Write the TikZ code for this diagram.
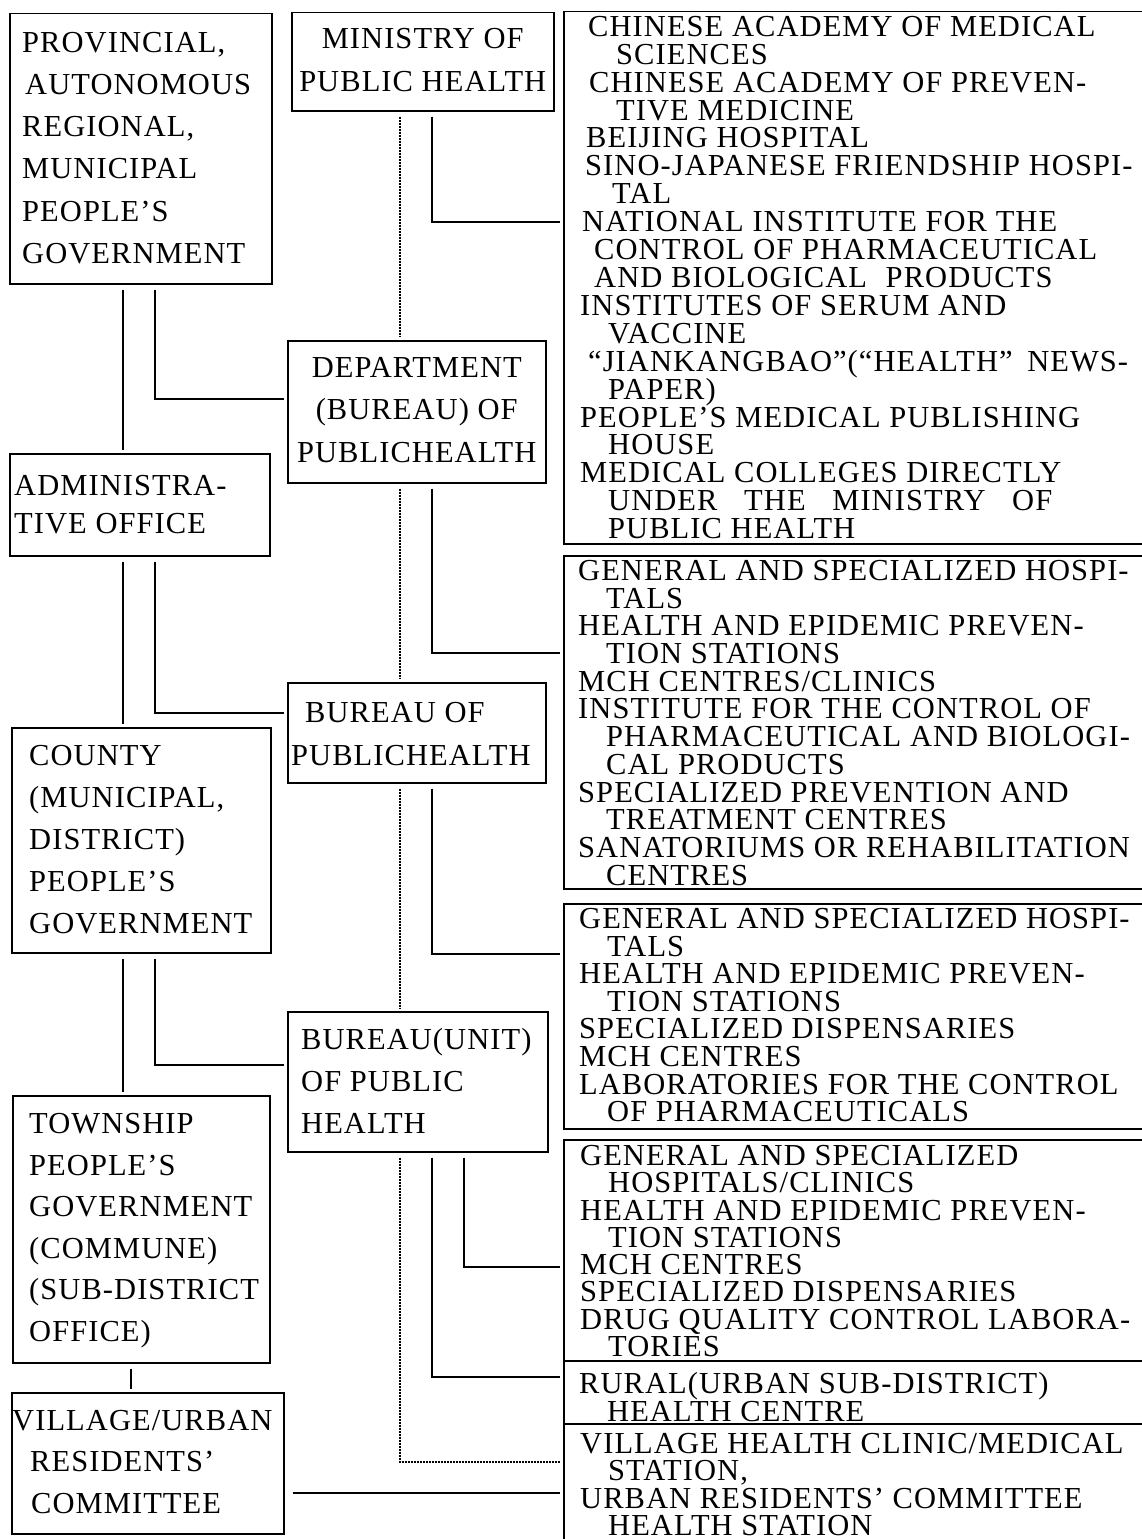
\documentclass[tikz,border=0pt]{standalone}
\usepackage{fontspec}
\setmainfont{Liberation Serif}[LetterSpace=3.5]
\usetikzlibrary{calc}
\newcommand\myind{\hspace*{28bp}}
\begin{document}
\begin{tikzpicture}[x=1bp,y=-1bp,
  box/.style={draw, line width=1.5bp, anchor=north west, inner sep=0pt},
  lt/.style={anchor=north west, inner sep=0pt, align=left, font=\fontsize{30.5bp}{#1}\selectfont},
  rt/.style={anchor=north west, inner sep=0pt, align=left, font=\fontsize{30.5bp}{#1}\selectfont},
  link/.style={line width=1.5bp, shorten <=5bp, shorten >=3bp},
  dlink/.style={link, dash pattern=on 2bp off 1bp},
]
\useasboundingbox (0,0) rectangle (1141,1539);

% column coordinates for connectors
\coordinate (xa) at (123,0);
\coordinate (xb) at (155,0);
\coordinate (xc) at (131,0);
\coordinate (xd) at (400,0);
\coordinate (xs) at (432,0);
\coordinate (xt) at (464,0);

% left column
\node[box, minimum width=262bp, minimum height=270bp] (prov) at (9,13) {};
\node[lt=42.2bp] (provT) at ($(prov.north west)+(13,19)$)
  {PROVINCIAL,\\\hspace*{3bp}AUTONOMOUS\\REGIONAL,\\MUNICIPAL\\PEOPLE’S\\GOVERNMENT};

\node[box, minimum width=260bp, minimum height=102bp] (admin) at (9,453) {};
\node[lt=38bp] (adminT) at ($(admin.north west)+(5,22)$) {ADMINISTRA-\\TIVE OFFICE};

\node[box, minimum width=259bp, minimum height=225bp] (county) at (11,727) {};
\node[lt=42bp] (countyT) at ($(county.north west)+(18,18)$)
  {COUNTY\\(MUNICIPAL,\\DISTRICT)\\PEOPLE’S\\GOVERNMENT};

\node[box, minimum width=257bp, minimum height=267bp] (town) at (12,1095) {};
\node[lt=41.6bp] (townT) at ($(town.north west)+(17,18)$)
  {TOWNSHIP\\PEOPLE’S\\GOVERNMENT\\(COMMUNE)\\(SUB-DISTRICT\\OFFICE)};

\node[box, minimum width=272bp, minimum height=141bp] (vill) at (11,1392) {};
\node[lt=41.5bp] (villT) at ($(vill.north west)+(1,18)$)
  {VILLAGE/URBAN\\\hspace*{18bp}RESIDENTS’\\\hspace*{19bp}COMMITTEE};

% middle column
\node[box, minimum width=262bp, minimum height=98bp] (min) at (291,12) {};
\node[lt=43bp, anchor=north, align=center] (minT) at ($(min.north)+(0,16)$)
  {MINISTRY OF\\PUBLIC HEALTH};

\node[box, minimum width=258bp, minimum height=142bp] (dept) at (287,340) {};
\node[lt=42.5bp, anchor=north, align=center] (deptT) at ($(dept.north)+(0,17)$)
  {DEPARTMENT\\(BUREAU) OF\\PUBLICHEALTH};

\node[box, minimum width=258bp, minimum height=100bp] (bur) at (287,682) {};
\node[lt=43bp] (burT) at ($(bur.north west)+(4,20)$)
  {\hspace*{14bp}BUREAU OF\\PUBLICHEALTH};

\node[box, minimum width=260bp, minimum height=140bp] (unit) at (287,1011) {};
\node[lt=42bp] (unitT) at ($(unit.north west)+(14,17)$)
  {BUREAU(UNIT)\\OF PUBLIC\\HEALTH};

% right column
\node[box, minimum width=580bp, minimum height=532bp] (r1) at (563,11) {};
\node[rt=27.9bp] (r1T) at ($(r1.north west)+(17,5)$)
  {\hspace*{8bp}CHINESE ACADEMY OF MEDICAL\\
   \myind\hspace*{8bp}SCIENCES\\
   \hspace*{9bp}CHINESE ACADEMY OF PREVEN-\\
   \myind\hspace*{8bp}TIVE MEDICINE\\
   \hspace*{6bp}BEIJING HOSPITAL\\
   \hspace*{5bp}SINO-JAPANESE FRIENDSHIP HOSPI-\\
   \myind\hspace*{4bp}TAL\\
   \hspace*{2bp}NATIONAL INSTITUTE FOR THE\\
   \hspace*{14bp}CONTROL OF PHARMACEUTICAL\\
   \hspace*{14bp}AND BIOLOGICAL\hspace*{10bp} PRODUCTS\\
   INSTITUTES OF SERUM AND\\
   \myind VACCINE\\
   \hspace*{8bp}“JIANKANGBAO”(“HEALTH”\hspace*{6bp} NEWS-\\
   \myind PAPER)\\
   PEOPLE’S MEDICAL PUBLISHING\\
   \myind HOUSE\\
   MEDICAL COLLEGES DIRECTLY\\
   \myind UNDER\hspace*{18bp} THE\hspace*{18bp} MINISTRY\hspace*{18bp} OF\\
   \myind PUBLIC HEALTH};

\node[box, minimum width=580bp, minimum height=333bp] (r2) at (563,555) {};
\node[rt=27.7bp] (r2T) at ($(r2.north west)+(15,5)$)
  {GENERAL AND SPECIALIZED HOSPI-\\
   \myind TALS\\
   HEALTH AND EPIDEMIC PREVEN-\\
   \myind TION STATIONS\\
   MCH CENTRES/CLINICS\\
   INSTITUTE FOR THE CONTROL OF\\
   \myind PHARMACEUTICAL AND BIOLOGI-\\
   \myind CAL PRODUCTS\\
   SPECIALIZED PREVENTION AND\\
   \myind TREATMENT CENTRES\\
   SANATORIUMS OR REHABILITATION\\
   \myind CENTRES};

\node[box, minimum width=580bp, minimum height=225bp] (r3) at (563,903) {};
\node[rt=27.6bp] (r3T) at ($(r3.north west)+(16,5)$)
  {GENERAL AND SPECIALIZED HOSPI-\\
   \myind TALS\\
   HEALTH AND EPIDEMIC PREVEN-\\
   \myind TION STATIONS\\
   SPECIALIZED DISPENSARIES\\
   MCH CENTRES\\
   LABORATORIES FOR THE CONTROL\\
   \myind OF PHARMACEUTICALS};

\node[box, minimum width=580bp, minimum height=221bp] (r4) at (563,1139) {};
\node[rt=27.3bp] (r4T) at ($(r4.north west)+(17,6)$)
  {GENERAL AND SPECIALIZED\\
   \myind HOSPITALS/CLINICS\\
   HEALTH AND EPIDEMIC PREVEN-\\
   \myind TION STATIONS\\
   MCH CENTRES\\
   SPECIALIZED DISPENSARIES\\
   DRUG QUALITY CONTROL LABORA-\\
   \myind TORIES};

\node[box, minimum width=580bp, minimum height=63bp] (r5) at (563,1360) {};
\node[rt=26.5bp] (r5T) at ($(r5.north west)+(16,12)$)
  {RURAL(URBAN SUB-DISTRICT)\\
   \myind HEALTH CENTRE};

\node[box, minimum width=580bp, minimum height=120bp] (r6) at (563,1423) {};
\node[rt=27.3bp] (r6T) at ($(r6.north west)+(17,10)$)
  {VILLAGE HEALTH CLINIC/MEDICAL\\
   \myind STATION,\\
   URBAN RESIDENTS’ COMMITTEE\\
   \myind HEALTH STATION};

% connectors: left column
\draw[link] (prov.south -| xa) -- (admin.north -| xa);
\draw[link] (prov.south -| xb) |- ($(dept.north west)+(0,59)$);
\draw[link] (admin.south -| xa) -- (county.north -| xa);
\draw[link] (admin.south -| xb) |- ($(bur.north west)+(0,31)$);
\draw[link] (county.south -| xa) -- (town.north -| xa);
\draw[link] (county.south -| xb) |- ($(unit.north west)+(0,54)$);
\draw[link] (town.south -| xc) -- (vill.north -| xc);
\draw[link, shorten <=8bp] ($(vill.north east)+(0,101)$) -- ($(r6.north west)+(0,70)$);

% connectors: middle column
\draw[dlink] (min.south -| xd) -- (dept.north -| xd);
\draw[link] (min.south -| xs) |- ($(r1.north west)+(0,211)$);
\draw[dlink] (dept.south -| xd) -- (bur.north -| xd);
\draw[link] (dept.south -| xs) |- ($(r2.north west)+(0,98)$);
\draw[dlink] (bur.south -| xd) -- (unit.north -| xd);
\draw[link] (bur.south -| xs) |- ($(r3.north west)+(0,51)$);
\draw[link] (unit.south -| xt) |- ($(r4.north west)+(0,128)$);
\draw[link] (unit.south -| xs) |- ($(r5.north west)+(0,17)$);
\draw[dlink] (unit.south -| xd) |- ($(r6.north west)+(0,39)$);
\end{tikzpicture}
\end{document}
